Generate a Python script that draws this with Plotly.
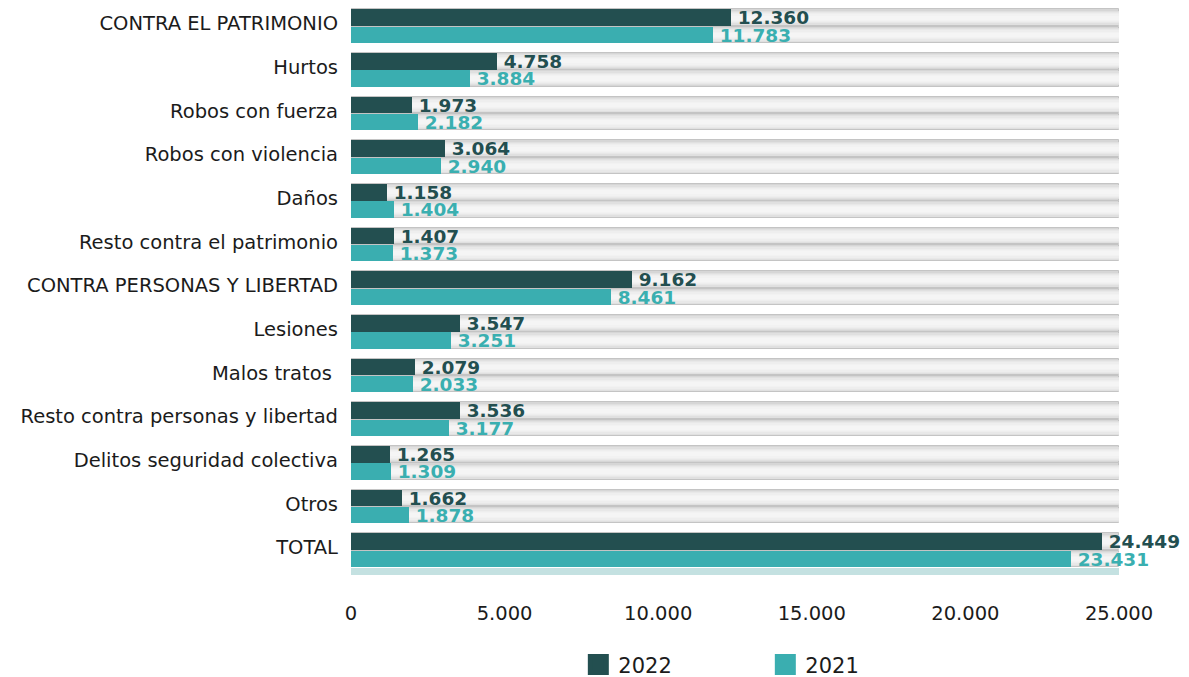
import plotly.graph_objects as go

categories = ["CONTRA EL PATRIMONIO", "Hurtos", "Robos con fuerza", "Robos con violencia",
              "Daños", "Resto contra el patrimonio", "CONTRA PERSONAS Y LIBERTAD", "Lesiones",
              "Malos tratos\u00a0", "Resto contra personas y libertad", "Delitos seguridad colectiva",
              "Otros", "TOTAL"]
values_2022 = [12360, 4758, 1973, 3064, 1158, 1407, 9162, 3547, 2079, 3536, 1265, 1662, 24449]
values_2021 = [11783, 3884, 2182, 2940, 1404, 1373, 8461, 3251, 2033, 3177, 1309, 1878, 23431]
x_ticks = [0, 5000, 10000, 15000, 20000, 25000]
x_max = 25000

DARK = "#234f50"
TEAL = "#3aaeb0"
TEAL_TXT = "#3aafb0"
FONT = "DejaVu Sans"
TXT = "#1b1b1b"

n = len(categories)
rows = list(range(n))
off = 0.197
bw = 0.378
y22 = [r - off for r in rows]
y21 = [r + off for r in rows]

fig = go.Figure()

# background tracks (approximate vertical gradient with nested bars)
layers = [(1.00, "#d6d6d6"), (0.85, "#e0e0e0"), (0.70, "#e8e8e8"),
          (0.55, "#eeeeee"), (0.40, "#f2f2f2"), (0.25, "#f5f5f5")]
for ys in (y22, y21):
    for i, (frac, col) in enumerate(layers):
        line = dict(color="#c4c4c4", width=1) if i == 0 else dict(width=0)
        fig.add_trace(go.Bar(y=ys, x=[x_max] * n, orientation="h", width=bw * frac,
                             marker=dict(color=col, line=line),
                             showlegend=False, hoverinfo="skip"))

# light strip under TOTAL
fig.add_trace(go.Bar(y=[n - 1 + 0.48], x=[x_max], orientation="h", width=0.16,
                     marker=dict(color="#c4e1e1", line=dict(width=0)),
                     showlegend=False, hoverinfo="skip"))

fig.add_trace(go.Bar(y=y22, x=values_2022, orientation="h", width=bw,
                     marker=dict(color=DARK, line=dict(width=0)),
                     texttemplate="\u2009%{x:,.0f}", textposition="outside",
                     textfont=dict(family=FONT, size=18.5, color=DARK, weight="bold"),
                     cliponaxis=False, constraintext="none", showlegend=False, name="2022"))
fig.add_trace(go.Bar(y=y21, x=values_2021, orientation="h", width=bw,
                     marker=dict(color=TEAL, line=dict(width=0)),
                     texttemplate="\u2009%{x:,.0f}", textposition="outside",
                     textfont=dict(family=FONT, size=18.5, color=TEAL_TXT, weight="bold"),
                     cliponaxis=False, constraintext="none", showlegend=False, name="2021"))

# legend entries
for name, col in (("2022", DARK), ("2021", TEAL)):
    fig.add_trace(go.Scatter(x=[None], y=[None], mode="markers", name=name,
                             marker=dict(symbol="square", size=16, color=col,
                                         line=dict(color=col, width=5))))

fig.update_layout(
    width=1189, height=677,
    margin=dict(l=351, r=70, t=0, b=87, autoexpand=False),
    barmode="overlay",
    bargap=0,
    plot_bgcolor="white", paper_bgcolor="white",
    separators=",.",
    font=dict(family=FONT, size=19, color=TXT),
    xaxis=dict(range=[0, x_max], tickvals=x_ticks, tickformat=",.0f", automargin=False,
               showgrid=False, zeroline=False, showline=False, ticks="",
               ticklabelstandoff=9, tickfont=dict(size=19.5, color=TXT)),
    yaxis=dict(range=[n - 1 + 0.91, -0.6], tickvals=[r - 0.065 for r in rows], ticktext=categories,
               automargin=False,
               showgrid=False, zeroline=False, showline=False, ticks="",
               ticklabelstandoff=12, tickfont=dict(size=19.5, color=TXT)),
    legend=dict(orientation="h", x=0.296, xanchor="left", y=-0.127, yanchor="middle",
                entrywidth=142, entrywidthmode="pixels", font=dict(size=21, color=TXT),
                bgcolor="rgba(0,0,0,0)"),
    showlegend=True,
)

fig.write_html("out.html", config={"displayModeBar": False},
               post_script="document.body.style.margin='0';")
